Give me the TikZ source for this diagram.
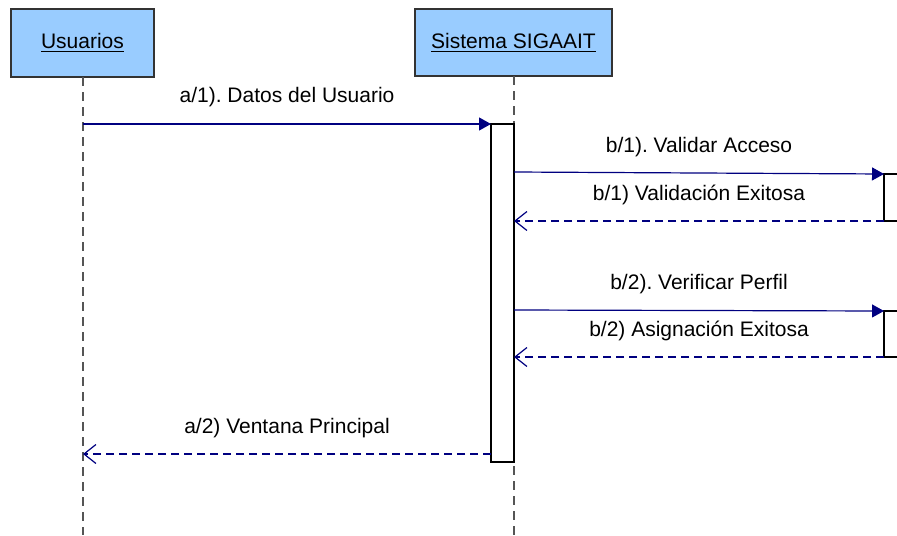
\documentclass[tikz,border=0pt]{standalone}
\usepackage{fontspec}
\setmainfont{Liberation Sans}
\usetikzlibrary{arrows.meta}
\frenchspacing

\definecolor{boxblue}{RGB}{153,204,255}
\definecolor{msgblue}{RGB}{0,0,128}
\definecolor{lifegray}{RGB}{85,85,85}

\begin{document}
\begin{tikzpicture}[x=0.5pt, y=-0.5pt,
  font=\fontsize{10.5}{12}\selectfont,
  actor/.style={draw=black!80, fill=boxblue, line width=0.6pt},
  lifeline/.style={draw=lifegray, line width=0.8pt, dash pattern=on 4.5pt off 3pt},
  actbar/.style={draw=black, fill=white, line width=0.6pt},
  msg/.style={draw=msgblue, line width=0.6pt, -{Triangle[length=6pt, width=6.5pt]}},
  reply/.style={draw=msgblue, line width=0.6pt, dash pattern=on 4pt off 2.5pt, -{Straight Barb[length=6pt, width=9.5pt]}},
  lbl/.style={midway, anchor=base, yshift=10.5pt}]
  \useasboundingbox (0,0) rectangle (897,535);
  \clip (0,0) rectangle (897,535);
  % actors
  \filldraw[actor] (11,9) rectangle (154,77);
  \node (usr) at (82.5,43) {\underline{Usuarios}};
  \filldraw[actor] (415,9) rectangle (612,76);
  \node (sis) at (513.5,42.5) {\underline{Sistema SIGAAIT}};
  % lifelines
  \coordinate (usrtop) at (83,77);
  \coordinate (usrend) at (83,535);
  \coordinate (sistop) at (514,76);
  \coordinate (sisend) at (514,535);
  \draw[lifeline] (usrtop) -- (usrend);
  \draw[lifeline] (sistop) -- (sisend);
  % activation bars
  \filldraw[actbar] (491,124) rectangle (514,462);
  \filldraw[actbar] (884,174) rectangle (905,221);
  \filldraw[actbar] (884,311) rectangle (905,357);
  % message ends
  \coordinate (a1u) at (83,124);
  \coordinate (a1s) at (491,124);
  \coordinate (b1s) at (514,172);
  \coordinate (b1r) at (884,174);
  \coordinate (b1rr) at (884,221);
  \coordinate (b1sr) at (514,221);
  \coordinate (b2s) at (514,310);
  \coordinate (b2r) at (884,311);
  \coordinate (b2rr) at (884,357);
  \coordinate (b2sr) at (514,357);
  \coordinate (a2s) at (491,454);
  \coordinate (a2u) at (83,454);
  % messages
  \draw[msg] (a1u) -- node[lbl] (m1) {a/1). Datos del Usuario} (a1s);
  \draw[msg] (b1s) -- node[lbl] (m2) {b/1). Validar Acceso} (b1r);
  \draw[reply] (b1rr) -- node[lbl] (m3) {b/1) Validación Exitosa} (b1sr);
  \draw[msg] (b2s) -- node[lbl] (m4) {b/2). Verificar Perfil} (b2r);
  \draw[reply] (b2rr) -- node[lbl] (m5) {b/2) Asignación Exitosa} (b2sr);
  \draw[reply] (a2s) -- node[lbl] (m6) {a/2) Ventana Principal} (a2u);
\end{tikzpicture}
\end{document}
